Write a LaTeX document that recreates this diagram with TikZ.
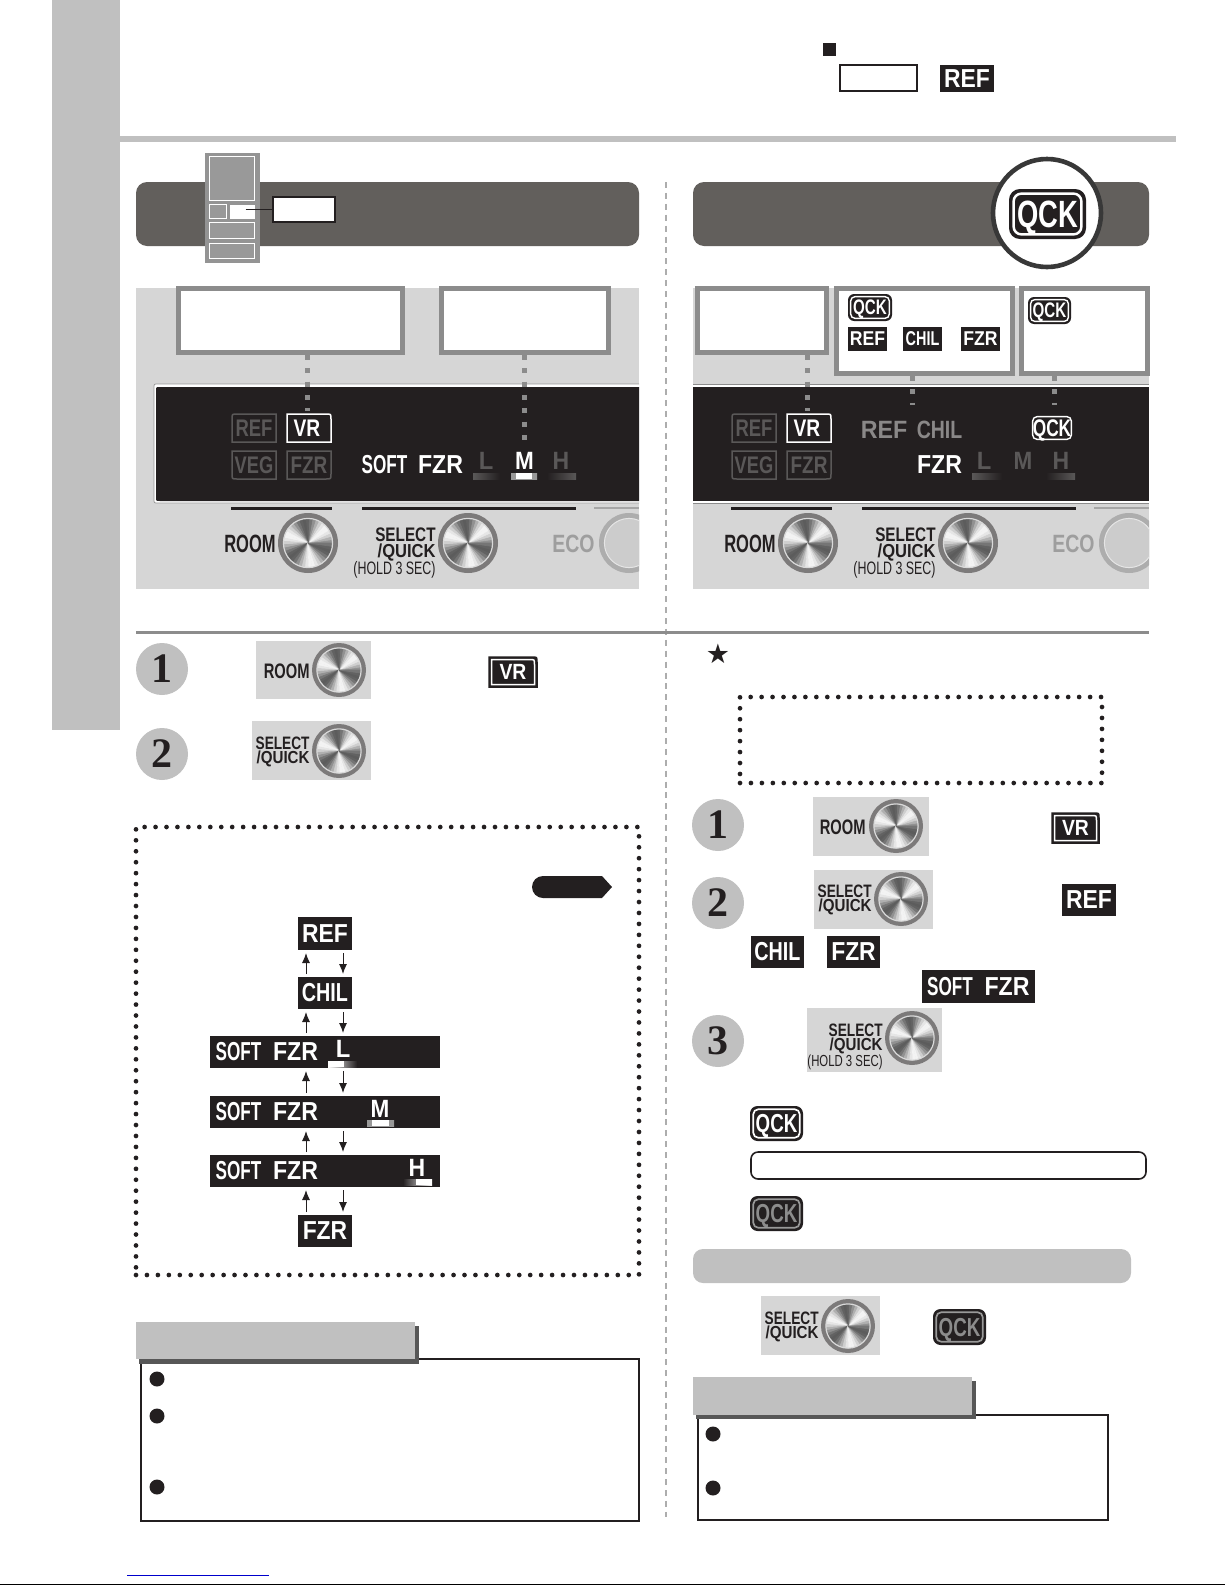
\documentclass[tikz,border=0pt]{standalone}
\usepackage{fontspec}
\usepackage{graphicx}
\setmainfont{Liberation Sans}
\newfontfamily\digitfont{Liberation Serif}
\newfontfamily\symfont{DejaVu Sans}
\usetikzlibrary{arrows.meta}
\definecolor{ink}{HTML}{231F20}
\definecolor{band}{HTML}{C0C0C0}
\definecolor{panel}{HTML}{D6D6D6}
\definecolor{head}{HTML}{625F5C}
\definecolor{frame}{HTML}{8C8C8C}
\definecolor{dimtxt}{HTML}{5A5858}
\definecolor{midtxt}{HTML}{8A8888}
\definecolor{ring}{HTML}{7C7A7A}
\tikzset{
  sqdots/.style={draw=frame,line width=2.5pt,dash pattern=on 2.5pt off 4.17pt},
  rounddots/.style={draw=ink,line width=2.35pt,line cap=round,dash pattern=on 0pt off 5.475pt},
  flowarrow/.style={draw=ink,line width=.5pt,-{Latex[length=5pt,width=4pt]},shorten <=1.5pt,shorten >=1.5pt},
  bullet/.style={circle,fill=ink,inner sep=0pt,minimum size=7.5pt},
  stepcirc/.style={circle,fill=band,inner sep=0pt,minimum size=26pt,text=ink,font=\digitfont\bfseries\fontsize{21}{21}\selectfont},
}
% filled plain rectangle node: name x0 y0 x1 y1 fill
\newcommand\Rect[6]{\node[fill=#6,inner sep=0pt,outer sep=0pt,minimum width={(#4-#2)*0.5pt},minimum height={(#5-#3)*0.5pt}] (#1) at ({(#2+#4)/2},{(#3+#5)/2}) {};}
% bordered white box: name x0 y0 x1 y1 linewidth colour
\newcommand\WBox[7]{\node[draw=#7,fill=white,line width={#6*0.5pt},inner sep=0pt,minimum width={(#4-#2-#6)*0.5pt},minimum height={(#5-#3-#6)*0.5pt}] (#1) at ({(#2+#4)/2},{(#3+#5)/2}) {};}
% text centred: name x y size xscale colour series text
\newcommand\Txt[8]{\node[inner sep=0pt,text=#6] (#1) at (#2,#3) {\scalebox{#5}[1]{\fontsize{#4}{#4}\selectfont#7#8}};}
% text right-aligned
\newcommand\Lbl[8]{\node[anchor=east,inner sep=0pt,text=#6] (#1) at (#2,#3) {\scalebox{#5}[1]{\fontsize{#4}{#4}\selectfont#7#8}};}
% black tag: name x0 y0 x1 y1 size xscale text
\newcommand\Tag[8]{\node[fill=ink,text=white,inner sep=0pt,outer sep=0pt,minimum width={(#4-#2)*0.5pt},minimum height={(#5-#3)*0.5pt}] (#1) at ({(#2+#4)/2},{(#3+#5)/2}) {\scalebox{#7}[1]{\fontsize{#6}{#6}\selectfont\bfseries #8}};}
% QCK badge: name x0 y0 x1 y1 size linecolour textcolour
\newcommand\Qck[8]{%
  \fill[ink,rounded corners={(#4-#2)*0.07pt}] (#2,#3) rectangle (#4,#5);
  \draw[#7,line width={(#4-#2)*0.016pt},rounded corners={(#4-#2)*0.05pt}] ({#2+(#4-#2)*0.06},{#3+(#4-#2)*0.06}) rectangle ({#4-(#4-#2)*0.06},{#5-(#4-#2)*0.06});
  \node[inner sep=0pt,text=#8] (#1) at ({(#2+#4)/2},{(#3+#5)/2}) {\raisebox{0pt}[\height][0pt]{\scalebox{.72}[1]{\fontsize{#6}{#6}\selectfont\bfseries QCK}}};}
% indicator shape: x0 y0 x1 y1 case fill draw
\newcommand\IndShape[7]{%
  \ifcase#5
    \filldraw[fill=#6,draw=#7,line width=.75pt] (#1,{#2+5}) .. controls (#1,#2) .. ({#1+5},#2) -- (#3,#2) -- (#3,#4) -- (#1,#4) -- cycle;
  \or
    \filldraw[fill=#6,draw=#7,line width=.75pt] (#1,#2) -- ({#3-5},#2) .. controls (#3,#2) .. (#3,{#2+5}) -- (#3,#4) -- (#1,#4) -- cycle;
  \or
    \filldraw[fill=#6,draw=#7,line width=.75pt] (#1,#2) -- (#3,#2) -- (#3,#4) -- ({#1+5},#4) .. controls (#1,#4) .. (#1,{#4-5}) -- cycle;
  \or
    \filldraw[fill=#6,draw=#7,line width=.75pt] (#1,#2) -- (#3,#2) -- (#3,{#4-5}) .. controls (#3,#4) .. ({#3-5},#4) -- (#1,#4) -- cycle;
  \fi}
% metal knob: name x y R
\newcommand\Knob[4]{%
  \coordinate (#1) at (#2,#3);
  \fill[ring] (#1) circle[radius={#4*0.5pt}];
  \begin{scope}
    \clip (#1) circle[radius={#4*0.41pt}];
    \foreach \a in {0,8,...,352}{%
      \pgfmathsetmacro\vv{34+30*cos(3*(\a+4-100))}%
      \filldraw[draw=black!\vv!white,fill=black!\vv!white,line width=.3pt] (#1) -- ([shift={(\a:{#4*0.6pt})}]#1) -- ([shift={(\a+8:{#4*0.6pt})}]#1) -- cycle;
    }
  \end{scope}
  \draw[white!70!gray,line width=.6pt] (#1) circle[radius={#4*0.41pt}];
}
% plain eco knob clipped by panel: name x y visible width to the right
\newcommand\EcoKnob[4]{%
  \coordinate (#1) at (#2,#3);
  \begin{scope}
    \clip ({#2-40},{#3-40}) rectangle ({#2+#4},{#3+40});
    \fill[black!32] (#1) circle[radius=15pt];
    \fill[black!20] (#1) circle[radius=12.3pt];
    \draw[white!80!gray,line width=.5pt] (#1) circle[radius=12.3pt];
  \end{scope}
}
% panel with buttons; dx = horizontal offset in px, #3 = right end of panel before shift
\newcommand\Buttons[3]{%
  \begin{scope}[xshift={#2*0.5pt}]
    \fill[ink] (231,507) rectangle (332,509.5);
    \fill[ink] (362,507) rectangle (576,509.5);
    \fill[black!35] (594,506.5) rectangle (#3,508.5);
    \Knob{#1ka}{308}{543}{30}
    \Knob{#1kb}{468}{543}{30}
    \EcoKnob{#1kc}{629}{543}{#3-629}
    \Lbl{#1room}{276}{544}{12.5}{.66}{ink}{\bfseries}{ROOM}
    \Lbl{#1sel}{436}{535}{9.8}{.78}{ink}{\bfseries}{SELECT}
    \Lbl{#1qui}{436}{552.5}{9.4}{.88}{ink}{\bfseries}{/QUICK}
    \Lbl{#1hold}{436}{570}{9}{.69}{ink}{}{(HOLD 3 SEC)}
    \Lbl{#1eco}{595}{544}{12.5}{.78}{black!38}{\bfseries}{ECO}
  \end{scope}}
% level bar: x0 y0 x1 y1 left mid right
\newcommand\LBar[7]{\shade[left color=#5,middle color=#6,right color=#7] (#1,#2) rectangle (#3,#4);}
\begin{document}
\begin{tikzpicture}[x=0.5pt,y=-0.5pt]
\useasboundingbox (0,0) rectangle (1225,1585);
\fill[white] (0,0) rectangle (1225,1585);
% page furniture
\Rect{sideband}{52}{0}{120}{730}{band}
\Rect{topline}{120}{136}{1176}{142}{band}
\Rect{topsq}{823}{43}{836}{56}{ink}
\WBox{topbox}{839}{64}{918}{92}{1.8}{ink}
\Tag{topref}{940}{65}{994}{92}{13}{.88}{REF}
\fill[black] (0,1583.5) rectangle (1225,1585);
\fill[blue!80!black] (127,1574.5) rectangle (269,1576);
\draw[draw=black!32,line width=.8pt,dash pattern=on 3pt off 2.45pt] (666,182) -- (666,1517);
\fill[black!45] (136,631) rectangle (1149,633.5);
% headers
\fill[head,rounded corners=5.5pt] (136,182) rectangle (639,246);
\fill[head,rounded corners=5.5pt] (693,182) rectangle (1149,246);
% fridge icon
\Rect{fridge}{205}{153}{260}{263}{black!42}
\WBox{fa}{209}{156}{255}{201}{1.6}{white}
\path[fill=black!40] (210,157) rectangle (254,200);
\WBox{fb}{209}{204}{227}{219}{1.6}{white}
\path[fill=black!40] (210,205) rectangle (226,218);
\Rect{fw}{230}{205}{255}{219}{white}
\WBox{fc}{209}{222}{255}{239}{1.6}{white}
\path[fill=black!40] (210,223) rectangle (254,238);
\WBox{fd}{209}{243}{255}{259}{1.6}{white}
\path[fill=black!40] (210,244) rectangle (254,258);
\WBox{flabel}{272}{196}{336}{223}{1.6}{ink}
\draw[ink,line width=.5pt] ([xshift=1.5pt]fw.center |- flabel.west) -- (flabel.west);
% QCK emblem
\node[circle,draw=black!78,fill=white,line width=2.3pt,inner sep=0pt,minimum size=54pt] (qckcirc) at (1047,213) {};
\Qck{qckbig}{1009}{189}{1086}{239}{19}{white}{white}
% left panel
\Rect{lpanel}{136}{288}{639}{589}{panel}
\fill[white] (639,384) -- (158,384) .. controls (154,384) .. (154,388) -- (154,499) .. controls (154,503) .. (158,503) -- (639,503) -- cycle;
\draw[black!40,line width=.4pt] (639,384) -- (158,384) .. controls (154,384) .. (154,388) -- (154,499) .. controls (154,503) .. (158,503) -- (639,503);
\fill[ink] (639,387) -- (160,387) .. controls (156,387) .. (156,391) -- (156,497) .. controls (156,501) .. (160,501) -- (639,501) -- cycle;
\WBox{lb1}{176}{286}{405}{355}{5}{frame}
\WBox{lb2}{439}{286}{611}{355}{5}{frame}
% right panel
\Rect{rpanel}{693}{288}{1149}{589}{panel}
\fill[white] (693,384) rectangle (1149,503);
\fill[black!45] (693,384) rectangle (1149,385);
\fill[black!45] (693,502.5) rectangle (1149,503.5);
\fill[ink] (693,387) rectangle (1149,501);
\WBox{rb1}{695}{286}{829}{355}{5}{frame}
\WBox{rb2}{834}{286}{1015}{376}{5}{frame}
\WBox{rb3}{1019}{286}{1150}{376}{5}{frame}
\Qck{rb2q}{848}{294}{892}{321}{10.5}{white}{white}
\Tag{rb2r}{848}{327}{887}{351}{10}{.88}{REF}
\Tag{rb2c}{903}{327}{942}{351}{10}{.72}{CHIL}
\Tag{rb2f}{961}{327}{1000}{351}{10}{.88}{FZR}
\Qck{rb3q}{1028}{297}{1071}{324}{10.5}{white}{white}
% indicators
\IndShape{232}{414}{276}{442}{0}{ink}{dimtxt}
\IndShape{287}{414}{331}{442}{1}{ink}{white}
\IndShape{232}{451}{276}{479}{2}{ink}{dimtxt}
\IndShape{287}{451}{331}{479}{3}{ink}{dimtxt}
\Txt{lref}{254}{428}{12}{.77}{dimtxt}{\bfseries}{REF}
\Txt{lvr}{307}{428}{12}{.8}{white}{\bfseries}{VR}
\Txt{lveg}{254}{465}{12}{.76}{dimtxt}{\bfseries}{VEG}
\Txt{lfz}{309}{465}{12}{.79}{dimtxt}{\bfseries}{FZR}
\Txt{lsoft}{384.5}{465}{13}{.66}{white}{\bfseries}{SOFT}
\Txt{lfzr}{440.5}{465}{13}{.89}{white}{\bfseries}{FZR}
\Txt{ll}{486}{461}{12.5}{.95}{dimtxt}{\bfseries}{L}
\Txt{lm}{524.5}{461}{12.5}{.9}{white}{\bfseries}{M}
\Txt{lh}{561}{461}{12.5}{.92}{dimtxt}{\bfseries}{H}
\LBar{473}{473}{500}{479}{dimtxt}{dimtxt}{ink}
\LBar{511}{473}{537}{479}{black!40}{white}{black!40}
\fill[white] (516,473) rectangle (532,479);
\LBar{547}{473}{576}{479}{ink}{dimtxt}{dimtxt}
\IndShape{732}{414}{776}{442}{0}{ink}{dimtxt}
\IndShape{787}{414}{831}{442}{1}{ink}{white}
\IndShape{732}{451}{776}{479}{2}{ink}{dimtxt}
\IndShape{787}{451}{831}{479}{3}{ink}{dimtxt}
\Txt{rref}{754}{428}{12}{.77}{dimtxt}{\bfseries}{REF}
\Txt{rvr}{807}{428}{12}{.8}{white}{\bfseries}{VR}
\Txt{rveg}{754}{465}{12}{.76}{dimtxt}{\bfseries}{VEG}
\Txt{rfz}{809}{465}{12}{.79}{dimtxt}{\bfseries}{FZR}
\Txt{rdref}{884}{430}{12.5}{.93}{midtxt}{\bfseries}{REF}
\Txt{rdchil}{939.5}{430}{12.5}{.78}{midtxt}{\bfseries}{CHIL}
\Qck{rdq}{1030}{414}{1074}{442}{12}{white}{white}
\Txt{rfzr}{939.5}{465}{13}{.89}{white}{\bfseries}{FZR}
\Txt{rl}{984}{461}{12.5}{.95}{dimtxt}{\bfseries}{L}
\Txt{rm}{1023}{461}{12.5}{.9}{dimtxt}{\bfseries}{M}
\Txt{rh}{1061}{461}{12.5}{.92}{dimtxt}{\bfseries}{H}
\LBar{972}{473}{1002}{479}{dimtxt}{dimtxt}{ink}
\LBar{1009}{473}{1037}{479}{ink}{dimtxt}{ink}
\LBar{1046}{473}{1075}{479}{ink}{dimtxt}{dimtxt}
\coordinate (rdmid) at (912,405);
% dotted leaders
\draw[sqdots] (lvr.north |- lb1.south) -- ([yshift=4pt]lvr.north |- lref.north);
\draw[sqdots] (lm.north |- lb2.south) -- ([yshift=5pt]lm.north);
\draw[sqdots] (rvr.north |- rb1.south) -- ([yshift=4pt]rvr.north |- rref.north);
\draw[sqdots] (rdmid |- rb2.south) -- (rdmid);
\draw[sqdots] ([xshift=1pt]rdq.north |- rb3.south) -- ([xshift=1pt,yshift=7pt]rdq.north);
% buttons
\Buttons{pl}{0}{639}
\Buttons{pr}{500}{649}
% left steps
\node[stepcirc] (ls1) at (162,669) {1};
\node[stepcirc] (ls2) at (162,754) {2};
\Rect{lt1}{256}{641}{371}{699}{panel}
\Knob{lt1k}{339}{670}{27}
\Lbl{lt1a}{310}{671}{10.5}{.7}{ink}{\bfseries}{ROOM}
\IndShape{489}{657}{537}{687}{1}{ink}{ink}
\IndShape{491.5}{659.5}{534.5}{684.5}{1}{ink}{white}
\Txt{lvrt}{513}{672}{11}{.88}{white}{\bfseries}{VR}
\Rect{lt2}{252}{721}{371}{780}{panel}
\Knob{lt2k}{339}{751}{27}
\Lbl{lt2a}{310}{743}{9}{.76}{ink}{\bfseries}{SELECT}
\Lbl{lt2b}{310}{759}{8.7}{.87}{ink}{\bfseries}{/QUICK}
% left dotted frame
\node[rounddots,inner sep=0pt,minimum width={503*0.5pt},minimum height={448*0.5pt}] (lframe) at (387.5,1051) {};
\fill[ink] (543,876) -- (602,876) -- (612,887) -- (602,898) -- (543,898) -- cycle;
\fill[ink] (543,887) circle[radius=5.5pt];
\Tag{fref}{298}{917}{352}{950}{13}{.88}{REF}
\Tag{fchil}{298}{977}{352}{1009}{13}{.76}{CHIL}
\Rect{fl}{210}{1036}{440}{1068}{ink}
\Rect{fm}{210}{1096}{440}{1128}{ink}
\Rect{fh}{210}{1155}{440}{1187}{ink}
\Tag{ffzr}{298}{1215}{352}{1247}{13}{.88}{FZR}
\Txt{fls}{238.5}{1052}{13}{.66}{white}{\bfseries}{SOFT}
\Txt{flf}{295.5}{1052}{13}{.89}{white}{\bfseries}{FZR}
\Txt{fll}{343}{1049}{12.5}{.95}{white}{\bfseries}{L}
\LBar{328}{1061}{357}{1067}{white}{white!70!ink}{ink}
\fill[white] (328,1061) rectangle (344,1067);
\Txt{fms}{238.5}{1112}{13}{.66}{white}{\bfseries}{SOFT}
\Txt{fmf}{295.5}{1112}{13}{.89}{white}{\bfseries}{FZR}
\Txt{fmm}{380}{1108.5}{12.5}{.9}{white}{\bfseries}{M}
\LBar{367}{1120}{394}{1126}{black!40}{white}{black!40}
\fill[white] (372,1120) rectangle (389,1126);
\Txt{fhs}{238.5}{1171}{13}{.66}{white}{\bfseries}{SOFT}
\Txt{fhf}{295.5}{1171}{13}{.89}{white}{\bfseries}{FZR}
\Txt{fhh}{417}{1167.5}{12.5}{.92}{white}{\bfseries}{H}
\LBar{403}{1179}{432}{1185}{ink}{white!70!ink}{white}
\fill[white] (416,1179) rectangle (432,1185);
\foreach \upper/\lower in {fref/fchil,fchil/fl,fl/fm,fm/fh,fh/ffzr}{
  \draw[flowarrow] ([xshift=-9.5pt]\lower.north) -- ([xshift=-9.5pt]\upper.south);
  \draw[flowarrow] ([xshift=9pt]\upper.south) -- ([xshift=9pt]\lower.north);
}
% left notes
\WBox{lnote}{140}{1358}{640}{1522}{2}{ink}
\Rect{ltabs}{139}{1326}{419}{1364}{black!66}
\Rect{ltab}{136}{1322}{415}{1359}{band}
\node[bullet] (lb1d) at (157,1379) {};
\node[bullet] (lb2d) at (157,1416) {};
\node[bullet] (lb3d) at (157,1487) {};
% right column
\node[inner sep=0pt,text=ink] (star) at (718,654) {\symfont\fontsize{13.5}{13.5}\selectfont ★};
\node[rounddots,inner sep=0pt,minimum width={362*0.5pt},minimum height={86*0.5pt}] (rframe) at (921,740) {};
\node[stepcirc] (rs1) at (718,825) {1};
\node[stepcirc] (rs2) at (718,903) {2};
\node[stepcirc] (rs3) at (718,1041) {3};
\Rect{rt1}{813}{797}{929}{856}{panel}
\Knob{rt1k}{896}{826}{27}
\Lbl{rt1a}{866}{827}{10.5}{.7}{ink}{\bfseries}{ROOM}
\IndShape{1052}{813}{1099}{843}{1}{ink}{ink}
\IndShape{1054.5}{815.5}{1096.5}{840.5}{1}{ink}{white}
\Txt{rvrt}{1075.5}{828}{11}{.88}{white}{\bfseries}{VR}
\Rect{rt2}{814}{870}{933}{929}{panel}
\Knob{rt2k}{901}{899}{27}
\Lbl{rt2a}{872}{891}{9}{.76}{ink}{\bfseries}{SELECT}
\Lbl{rt2b}{872}{907}{8.7}{.87}{ink}{\bfseries}{/QUICK}
\Tag{sref}{1062}{884}{1116}{916}{13}{.88}{REF}
\Tag{schil}{751}{936}{804}{968}{13}{.76}{CHIL}
\Tag{sfzr}{827}{936}{880}{968}{13}{.88}{FZR}
\Rect{ssoft}{922}{970}{1035}{1003}{ink}
\Txt{ssofta}{950}{987}{13}{.66}{white}{\bfseries}{SOFT}
\Txt{ssoftb}{1007}{987}{13}{.89}{white}{\bfseries}{FZR}
\Rect{rt3}{807}{1008}{942}{1072}{panel}
\Knob{rt3k}{912}{1038}{27}
\Lbl{rt3a}{883}{1030}{9}{.76}{ink}{\bfseries}{SELECT}
\Lbl{rt3b}{883}{1046}{8.7}{.87}{ink}{\bfseries}{/QUICK}
\Lbl{rt3c}{883}{1062}{8}{.71}{ink}{}{(HOLD 3 SEC)}
\Qck{sq1}{750}{1106}{803}{1141}{13}{white}{white}
\node[draw=ink,fill=white,line width=.8pt,rounded corners=3.5pt,inner sep=0pt,minimum width={395*0.5pt},minimum height={27*0.5pt}] (sround) at (948.5,1165.5) {};
\Qck{sq2}{750}{1196}{803}{1231}{13}{black!40}{black!45}
\node[fill=band,rounded corners=5pt,inner sep=0pt,minimum width={438*0.5pt},minimum height={34*0.5pt}] (rbar) at (912,1266) {};
\Rect{rt4}{761}{1296}{880}{1355}{panel}
\Knob{rt4k}{848}{1326}{27}
\Lbl{rt4a}{819}{1318}{9}{.76}{ink}{\bfseries}{SELECT}
\Lbl{rt4b}{819}{1334}{8.7}{.87}{ink}{\bfseries}{/QUICK}
\Qck{sq3}{933}{1309}{986}{1345}{13}{black!40}{black!45}
% right notes
\WBox{rnote}{697}{1414}{1109}{1521}{2}{ink}
\Rect{rtabs}{696}{1381}{976}{1419}{black!66}
\Rect{rtab}{693}{1377}{972}{1415}{band}
\node[bullet] (rb1d) at (713,1434) {};
\node[bullet] (rb2d) at (713,1488) {};
\end{tikzpicture}
\end{document}
